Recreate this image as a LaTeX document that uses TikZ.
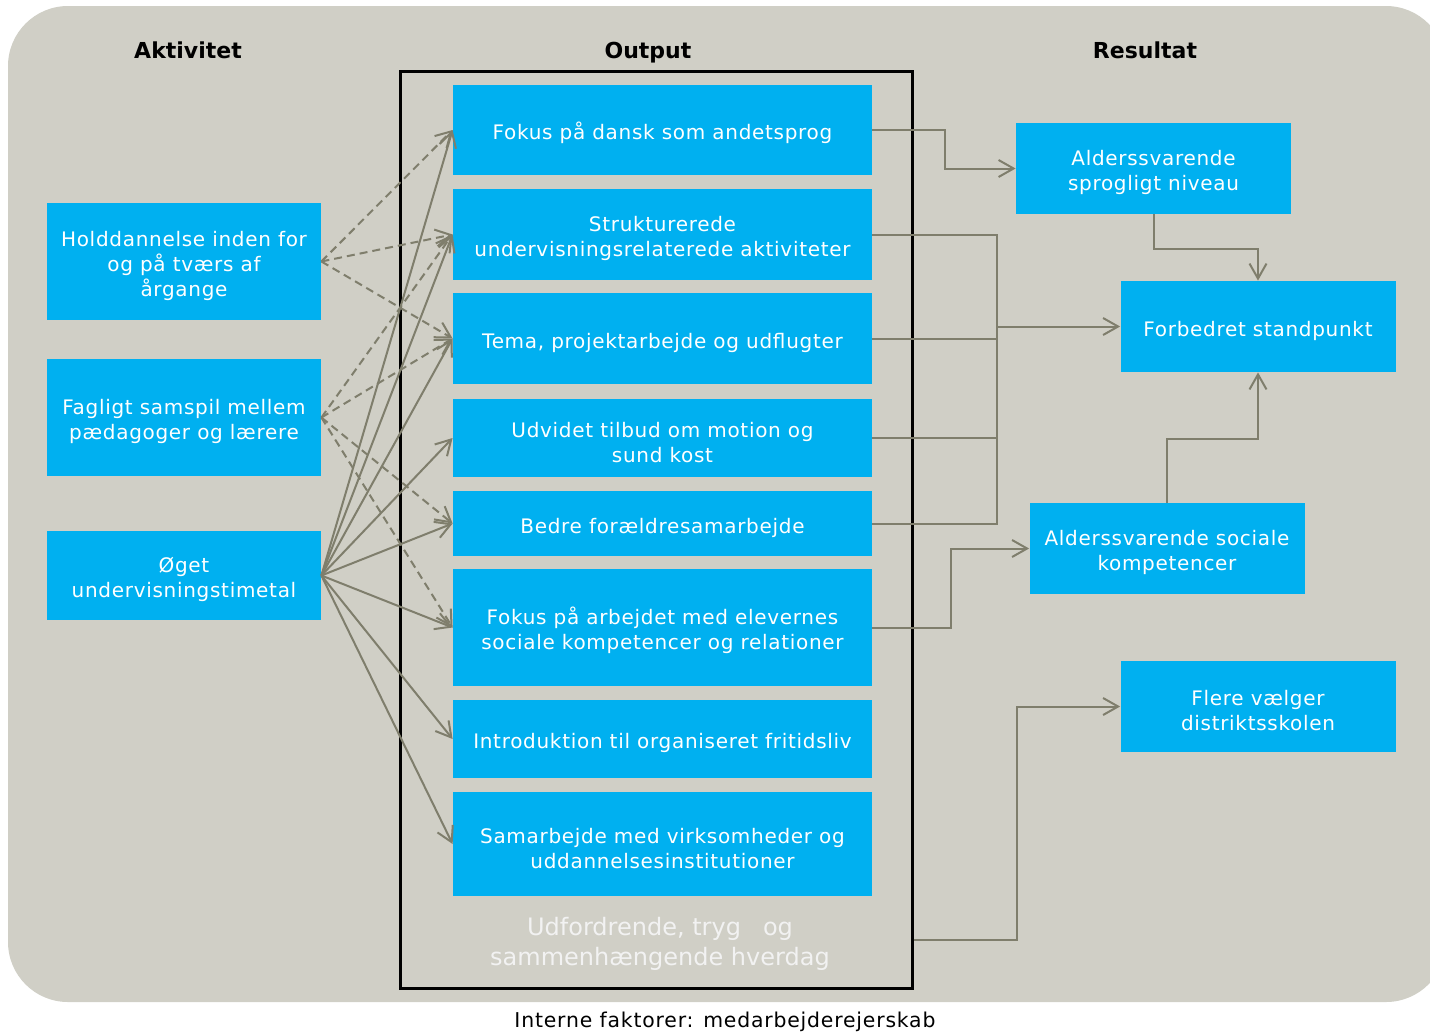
\documentclass[tikz,border=0pt]{standalone}
\usepackage{fontspec}
\setmainfont{DejaVu Sans}
\newfontfamily\boxfont[LetterSpace=3.5]{DejaVu Sans}
\newfontfamily\botfont[LetterSpace=4]{DejaVu Sans}
\usetikzlibrary{arrows.meta,calc}
\definecolor{bg}{HTML}{D0CFC6}
\definecolor{bl}{HTML}{00B0F0}
\definecolor{ln}{HTML}{7F7E6C}
\definecolor{lt}{HTML}{F2F2F2}
\newcommand\firstln{\rule{0pt}{12pt}}
\begin{document}
\begin{tikzpicture}[x=0.5pt,y=-0.5pt,
  box/.style={fill=bl,text=white,inner sep=0pt,align=center,font=\boxfont\fontsize{10}{12.5}\selectfont},
  hdr/.style={font=\fontsize{11}{13}\selectfont\bfseries,anchor=base},
  con/.style={draw=ln,line width=1pt},
  arr/.style={con,-{Straight Barb[length=7.5pt,width=8.5pt,line width=1pt]}},
  dsh/.style={arr,dash pattern=on 4pt off 2.5pt}]
\useasboundingbox (0,0) rectangle (1430,1034);
\begin{scope}
\clip (0,0) rectangle (1430,1034);
\fill[bg,rounded corners=30pt] (8,6) rectangle (1446,1002);
\end{scope}
% headers
\node[hdr] (h1) at (188,58) {Aktivitet};
\node[hdr] (h2) at (648,58) {Output};
\node[hdr] (h3) at (1145,58) {Resultat};
% frame
\node[draw=black,line width=1.5pt,minimum width=256pt,minimum height=458.5pt,inner sep=0pt] (frame) at (656,529.5) {};
% left boxes
\node[box,minimum width=137pt,minimum height=58.5pt] (hold) at (184,261.5) {\firstln Holddannelse inden for\\og på tværs af\\årgange};
\node[box,minimum width=137pt,minimum height=58.5pt] (fag) at (184,417.5) {\firstln Fagligt samspil mellem\\pædagoger og lærere};
\node[box,minimum width=137pt,minimum height=44.5pt] (oget) at (184,575.5) {\firstln Øget\\undervisningstimetal};
% output boxes
\node[box,minimum width=209.5pt,minimum height=45pt] (o1) at (662.5,130) {\firstln Fokus på dansk som andetsprog};
\node[box,minimum width=209.5pt,minimum height=45.5pt] (o2) at (662.5,234.5) {\firstln Strukturerede\\undervisningsrelaterede aktiviteter};
\node[box,minimum width=209.5pt,minimum height=45.5pt] (o3) at (662.5,338.5) {\firstln Tema, projektarbejde og udflugter};
\node[box,minimum width=209.5pt,minimum height=39pt] (o4) at (662.5,438) {\firstln Udvidet tilbud om motion og\\sund kost};
\node[box,minimum width=209.5pt,minimum height=32.5pt] (o5) at (662.5,523.5) {\firstln Bedre forældresamarbejde};
\node[box,minimum width=209.5pt,minimum height=58.5pt] (o6) at (662.5,627.5) {\firstln Fokus på arbejdet med elevernes\\sociale kompetencer og relationer};
\node[box,minimum width=209.5pt,minimum height=39pt] (o7) at (662.5,739) {\firstln Introduktion til organiseret fritidsliv};
\node[box,minimum width=209.5pt,minimum height=52pt] (o8) at (662.5,844) {\firstln Samarbejde med virksomheder og\\uddannelsesinstitutioner};
\node[text=lt,align=center,font=\fontsize{12}{15}\selectfont] (hv) at (660,944) {Udfordrende, tryg\hspace{0.6em} og\\sammenhængende hverdag};
% right boxes
\node[box,minimum width=137.5pt,minimum height=45.5pt] (sprog) at (1153.5,168.5) {\firstln Alderssvarende\\sprogligt niveau};
\node[box,minimum width=137.5pt,minimum height=45.5pt] (forb) at (1258,326.5) {\firstln Forbedret standpunkt};
\node[box,minimum width=137.5pt,minimum height=45.5pt] (soc) at (1167,548.5) {\firstln Alderssvarende sociale\\kompetencer};
\node[box,minimum width=137.5pt,minimum height=45.5pt] (flere) at (1258,706.5) {\firstln Flere vælger\\distriktsskolen};
% bottom text
\node[font=\botfont\fontsize{10.2}{12.5}\selectfont] (int) at (725,1022) {Interne faktorer: medarbejderejerskab};
% left connectors
\foreach \t in {o1,o2,o3} \draw[dsh] (hold.east) -- (\t.west);
\foreach \t in {o2,o3,o5,o6} \draw[dsh] (fag.east) -- (\t.west);
\foreach \t in {o1,o2,o3,o4,o5,o6,o7,o8} \draw[arr] (oget.east) -- (\t.west);
% right connectors
\coordinate (bus) at (997,0);
\draw[arr] (o1.east) -| ([xshift=-35.5pt]sprog.west) -- (sprog.west);
\draw[con] (o2.east) -| (bus |- o5.east) -- (o5.east);
\draw[con] (o3.east) -- (o3.east -| bus);
\draw[con] (o4.east) -- (o4.east -| bus);
\draw[arr] (bus |- forb.west) -- (forb.west);
\draw[arr] (o6.east) -| ([xshift=-39pt]soc.west) -- (soc.west);
\draw[arr] (sprog.south) |- ([yshift=16pt]forb.north) -- (forb.north);
\draw[arr] (soc.north) |- ([yshift=-33.5pt]forb.south) -- (forb.south);
\draw[arr] ([yshift=-205.25pt]frame.east) -| ([xshift=-51.5pt]flere.west) -- (flere.west);
\end{tikzpicture}
\end{document}
